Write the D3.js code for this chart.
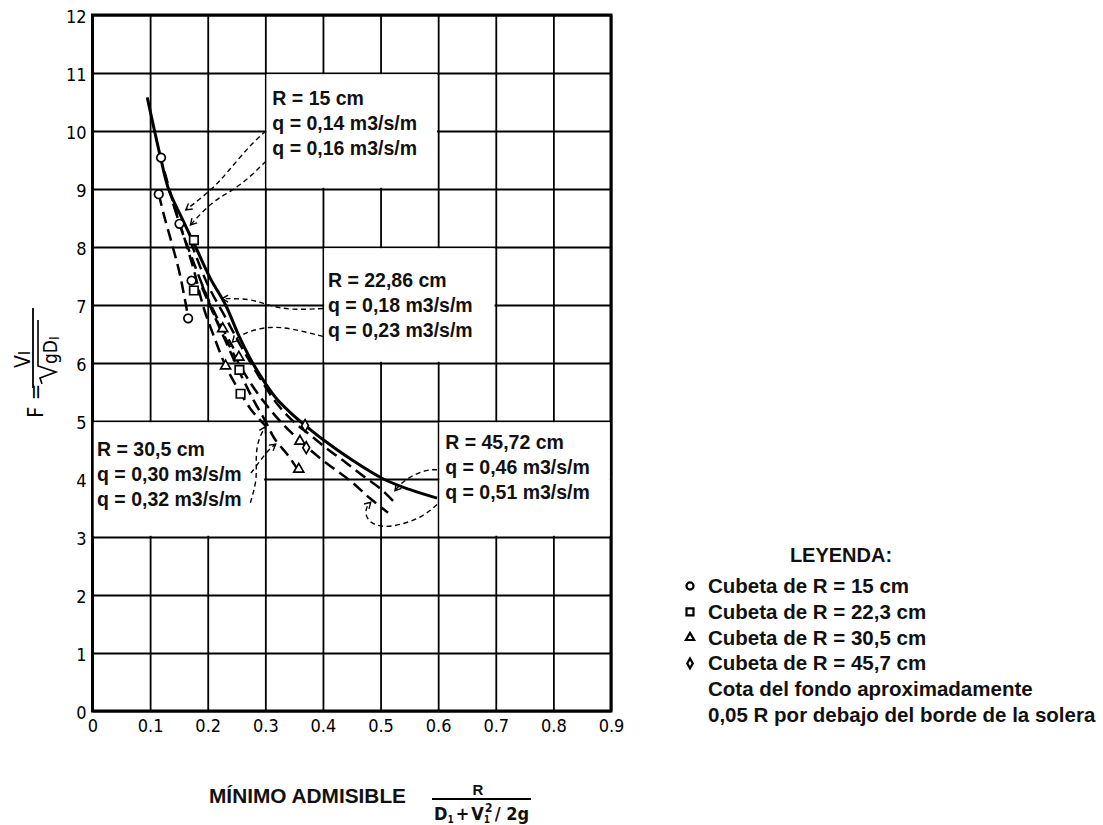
<!DOCTYPE html>
<html><head><meta charset="utf-8">
<script src="https://cdn.jsdelivr.net/npm/d3@7"></script>
<style>body{margin:0;background:#fff}</style>
</head><body>
<svg id="c" width="1103" height="825"></svg>
<script>
// ---------- data ----------
const xTicks = [0,0.1,0.2,0.3,0.4,0.5,0.6,0.7,0.8,0.9];
const xTickLabels = ["0","0.1","0.2","0.3","0.4","0.5","0.6","0.7","0.8","0.9"];
const yTicks = [0,1,2,3,4,5,6,7,8,9,10,11,12];
const yTickLabels = ["0","1","2","3","4","5","6","7","8","9","10","11","12"];

const solidCurve = [[0.095,10.58],[0.118,9.55],[0.132,9.0],[0.155,8.5],[0.179,8.0],[0.205,7.45],[0.231,7.0],[0.255,6.45],[0.278,6.0],[0.30,5.65],[0.32,5.38],[0.343,5.15],[0.366,4.95],[0.40,4.68],[0.45,4.33],[0.505,4.0],[0.55,3.82],[0.598,3.67]];
const dashC15 = [[0.115,8.91],[0.124,8.55],[0.138,8.05],[0.150,7.6],[0.158,7.22],[0.164,6.9],[0.166,6.77]];
const dashU = [[0.125,9.3],[0.151,8.4],[0.176,7.72],[0.2,7.12],[0.226,6.59],[0.245,6.25]];
const dashT30 = [[0.14,8.75],[0.158,8.2],[0.176,7.6],[0.193,6.95],[0.213,6.4],[0.231,5.95],[0.25,5.6],[0.275,5.2],[0.30,4.92]];
const dashT30b = [[0.19,7.35],[0.21,6.85],[0.23,6.4],[0.255,5.85],[0.28,5.35],[0.30,5.0],[0.317,4.68],[0.34,4.4],[0.357,4.15]];
const dashA = [[0.17,8.1],[0.2,7.35],[0.23,6.8],[0.26,6.25],[0.29,5.75],[0.32,5.3],[0.35,4.98],[0.38,4.74],[0.41,4.5],[0.44,4.28],[0.47,4.05],[0.5,3.83],[0.522,3.62]];
const dashB = [[0.19,7.3],[0.215,6.75],[0.24,6.25],[0.27,5.72],[0.3,5.3],[0.33,4.95],[0.36,4.66],[0.39,4.4],[0.42,4.17],[0.45,3.95],[0.48,3.68],[0.513,3.42]];

const circles15 = [[0.119,9.54],[0.115,8.91],[0.151,8.40],[0.172,7.42],[0.166,6.77]];
const squares22 = [[0.176,8.12],[0.176,7.25],[0.255,5.88],[0.257,5.47]];
const triangles30 = [[0.226,6.59],[0.231,5.95],[0.254,6.10],[0.360,4.65],[0.358,4.17]];
const diamonds45 = [[0.369,4.92],[0.371,4.54]];

const lead15a = [[0.301,10.0],[0.274,9.76],[0.235,9.3],[0.209,9.0],[0.162,8.64]];
const lead15b = [[0.301,9.48],[0.274,9.21],[0.24,8.95],[0.209,8.8],[0.17,8.38]];
const lead22a = [[0.4,6.94],[0.343,6.91],[0.303,7.0],[0.274,7.11],[0.225,7.11]];
const lead22b = [[0.4,6.46],[0.343,6.6],[0.309,6.63],[0.274,6.56],[0.251,6.44],[0.243,6.36]];
const lead30a = [[0.274,3.59],[0.286,3.99],[0.283,4.40],[0.288,4.69],[0.30,4.9]];
const lead30b = [[0.275,4.1],[0.29,4.3],[0.305,4.5],[0.318,4.6]];
const lead45a = [[0.598,4.16],[0.58,4.16],[0.557,4.07],[0.537,3.94],[0.525,3.8]];
const lead45b = [[0.598,3.56],[0.575,3.36],[0.54,3.22],[0.505,3.16],[0.482,3.24],[0.473,3.39],[0.476,3.53],[0.483,3.6]];

const boxCells = [[0.3,0.6,9,11],[0.4,0.7,6,8],[0.0,0.3,3,5],[0.6,0.9,3,5]];
const boxTexts = [
  ["R = 15 cm","q = 0,14 m3/s/m","q = 0,16 m3/s/m"],
  ["R = 22,86 cm","q = 0,18 m3/s/m","q = 0,23 m3/s/m"],
  ["R = 30,5 cm","q = 0,30 m3/s/m","q = 0,32 m3/s/m"],
  ["R = 45,72 cm","q = 0,46 m3/s/m","q = 0,51 m3/s/m"]
];
const legendTitle = "LEYENDA:";
const legendItems = ["Cubeta de R = 15 cm","Cubeta de R = 22,3 cm","Cubeta de R = 30,5 cm","Cubeta de R = 45,7 cm","Cota del fondo aproximadamente","0,05 R por debajo del borde de la solera"];
const legendShapes = ["circle","square","triangle","diamond",null,null];
const xTitle = "MÍNIMO ADMISIBLE";

// ---------- layout ----------
const svg = d3.select("#c");
const x = d3.scaleLinear().domain([0,0.9]).range([92.5,611]);
const y = d3.scaleLinear().domain([0,12]).range([711,15]);
const BOLD = "'Liberation Sans', Arial, sans-serif";
const NARROW = "'Liberation Sans Narrow', 'DejaVu Sans Condensed', sans-serif";

svg.append("rect").attr("width",1103).attr("height",825).attr("fill","#fff");

const defs = svg.append("defs");
defs.append("marker").attr("id","arr").attr("viewBox","-8 -5 10 10")
  .attr("refX",0).attr("refY",0).attr("markerWidth",10).attr("markerHeight",10)
  .attr("markerUnits","userSpaceOnUse").attr("orient","auto")
  .append("path").attr("d","M-6,-3.5L0,0L-6,3.5").attr("fill","none").attr("stroke","#000").attr("stroke-width",1.4);

// grid via axes
const gx = svg.append("g").attr("transform",`translate(0,${y(0)})`)
  .call(d3.axisBottom(x).tickValues(xTicks).tickFormat((d,i)=>xTickLabels[i])
    .tickSize(-(y(0)-y(12))).tickPadding(8));
const gy = svg.append("g").attr("transform",`translate(${x(0)},0)`)
  .call(d3.axisLeft(y).tickValues(yTicks).tickFormat((d,i)=>yTickLabels[i])
    .tickSize(-(x(0.9)-x(0))).tickPadding(6));
[gx,gy].forEach(g=>{
  g.select(".domain").remove();
  g.selectAll(".tick line").attr("stroke","#000").attr("stroke-width",1.8);
  g.selectAll(".tick text").attr("fill","#000").attr("font-family",NARROW).attr("font-size",18);
});
gy.selectAll(".tick text").attr("dy","0.42em");

// frame
svg.append("rect").attr("x",x(0)).attr("y",y(12)).attr("width",x(0.9)-x(0)).attr("height",y(0)-y(12))
  .attr("fill","none").attr("stroke","#000").attr("stroke-width",3);

// annotation boxes
const boxFirstBase = [32,40,35,28];
boxCells.forEach((b,i)=>{
  const x0=x(b[0]), x1=x(b[1]), yt=y(b[3]), yb=y(b[2]);
  svg.append("rect").attr("x",x0+1.2).attr("y",yt+1.2).attr("width",x1-x0-2.4).attr("height",yb-yt-2.4).attr("fill","#fff");
  const tx = x0 + (i===2?4.5:(i===1?5:7));
  boxTexts[i].forEach((t,j)=>{
    svg.append("text").attr("x",tx).attr("y",yt+boxFirstBase[i]+j*25)
      .attr("font-family",BOLD).attr("font-weight","bold").attr("font-size",19.5).attr("fill","#111").text(t);
  });
});

// curves
const line = d3.line().x(d=>x(d[0])).y(d=>y(d[1])).curve(d3.curveCatmullRom.alpha(0.5));
svg.append("path").datum(solidCurve).attr("d",line).attr("fill","none").attr("stroke","#000").attr("stroke-width",3);
[dashC15,dashU,dashT30,dashT30b,dashA,dashB].forEach(d=>{
  svg.append("path").datum(d).attr("d",line).attr("fill","none").attr("stroke","#000")
    .attr("stroke-width",2.5).attr("stroke-dasharray","12,6");
});

// leaders
const lline = d3.line().x(d=>x(d[0])).y(d=>y(d[1])).curve(d3.curveBasis);
[lead15a,lead15b,lead22a,lead22b,lead30a,lead30b,lead45a,lead45b].forEach(d=>{
  svg.append("path").datum(d).attr("d",lline).attr("fill","none").attr("stroke","#000")
    .attr("stroke-width",1.4).attr("stroke-dasharray","5,3.5").attr("marker-end","url(#arr)");
});

// markers
function shapePath(kind, s){
  if(kind==="circle") return d3.symbol().type(d3.symbolCircle).size(s*s*0.8)();
  if(kind==="square") return d3.symbol().type(d3.symbolSquare).size(s*s)();
  if(kind==="triangle") return d3.symbol().type(d3.symbolTriangle).size(s*s*0.6)();
  if(kind==="diamond") return `M0,${-s*0.7}L${s*0.4},0L0,${s*0.7}L${-s*0.4},0Z`;
}
const markerSets = [[circles15,"circle"],[squares22,"square"],[triangles30,"triangle"],[diamonds45,"diamond"]];
markerSets.forEach(([pts,kind])=>{
  svg.append("g").selectAll("path").data(pts).join("path")
    .attr("transform",d=>`translate(${x(d[0])},${y(d[1])})`)
    .attr("d",shapePath(kind,8.5)).attr("fill","#fff").attr("stroke","#000").attr("stroke-width",1.7);
});

// legend
svg.append("text").attr("x",841).attr("y",562).attr("text-anchor","middle")
  .attr("font-family",BOLD).attr("font-weight","bold").attr("font-size",20).attr("fill","#111").text(legendTitle);
legendItems.forEach((t,i)=>{
  const by = 593 + i*25.8;
  svg.append("text").attr("x",708).attr("y",by).attr("font-family",BOLD).attr("font-weight","bold")
    .attr("font-size",20.5).attr("fill","#111").text(t);
  if(legendShapes[i]){
    svg.append("path").attr("transform",`translate(690,${by-7})`).attr("d",shapePath(legendShapes[i],7))
      .attr("fill","#fff").attr("stroke","#000").attr("stroke-width",2.2);
  }
});

// x title
svg.append("text").attr("x",209).attr("y",803).attr("font-family",BOLD).attr("font-weight","bold")
  .attr("font-size",20).attr("textLength",197).attr("lengthAdjust","spacingAndGlyphs").attr("fill","#111").text(xTitle);
svg.append("text").attr("x",478).attr("y",795).attr("text-anchor","middle").attr("font-family",BOLD)
  .attr("font-weight","bold").attr("font-size",15).attr("fill","#111").text("R");
svg.append("line").attr("x1",432).attr("x2",531).attr("y1",799).attr("y2",799).attr("stroke","#000").attr("stroke-width",2);
const den = svg.append("text").attr("x",434).attr("y",820).attr("font-family",NARROW).attr("font-weight","bold")
  .attr("font-size",18).attr("fill","#111");
den.append("tspan").text("D");
den.append("tspan").attr("font-size",10).attr("dy",3).text("1");
den.append("tspan").attr("dy",-3).attr("dx",2).text("+");
den.append("tspan").attr("dx",2).text("V");
den.append("tspan").attr("font-size",10).attr("dy",3).text("1");
den.append("tspan").attr("font-size",12).attr("dx",-5).attr("dy",-11).text("2");
den.append("tspan").attr("dy",8).attr("dx",2).text("/ 2g");

// y title (rotated)
const yt = svg.append("g").attr("transform","translate(44,420) rotate(-90)");
yt.append("text").attr("x",2).attr("y",-1).attr("font-family",NARROW).attr("font-size",22).attr("fill","#000").text("F =");
yt.append("line").attr("x1",32).attr("x2",112).attr("y1",-11).attr("y2",-11).attr("stroke","#000").attr("stroke-width",1.8);
const num = yt.append("text").attr("x",52).attr("y",-14).attr("font-family",NARROW).attr("font-size",21).attr("fill","#000");
num.append("tspan").text("V");
num.append("tspan").attr("font-size",15).text("I");
yt.append("path").attr("d","M36,-2 L42,-4 L48,12 L54,-6 L100,-6").attr("fill","none").attr("stroke","#000").attr("stroke-width",1.6);
const dn = yt.append("text").attr("x",56).attr("y",13).attr("font-family",NARROW).attr("font-size",19).attr("fill","#000");
dn.append("tspan").text("gD");
dn.append("tspan").attr("font-size",14).attr("dy",2).text("I");
</script>
</body></html>
